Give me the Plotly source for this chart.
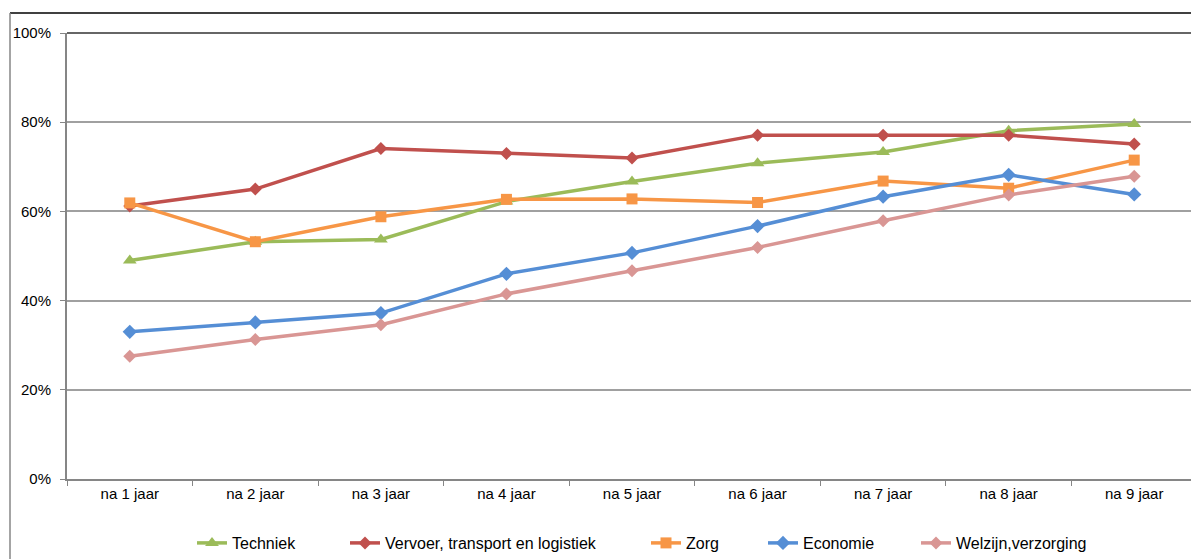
import plotly.graph_objects as go

categories = ["na 1 jaar", "na 2 jaar", "na 3 jaar", "na 4 jaar", "na 5 jaar",
              "na 6 jaar", "na 7 jaar", "na 8 jaar", "na 9 jaar"]

techniek = [49.0, 53.2, 53.7, 62.2, 66.7, 70.8, 73.3, 78.1, 79.6]
vervoer = [61.2, 65.0, 74.1, 73.0, 72.0, 77.1, 77.1, 77.1, 75.1]
zorg = [61.9, 53.2, 58.8, 62.7, 62.8, 62.0, 66.8, 65.2, 71.5]
economie = [33.0, 35.1, 37.2, 46.0, 50.7, 56.7, 63.3, 68.2, 63.8]
welzijn = [27.5, 31.3, 34.6, 41.5, 46.7, 51.9, 57.9, 63.7, 67.9]

series_names = ["Techniek", "Vervoer, transport en logistiek", "Zorg", "Economie", "Welzijn,verzorging"]
series_values = [techniek, vervoer, zorg, economie, welzijn]
colors = ["#9BBB59", "#C0504D", "#F79646", "#558ED5", "#D99694"]
symbols = ["triangle-up", "diamond", "square", "diamond", "diamond"]
msizes = [12, 10, 11, 11, 10]
legend_text_px = [232, 385, 686, 803, 956]

# page body has an 8px margin; figure sized to fit the window exactly
OFF = 8
W, H = 1199 - OFF, 559 - OFF
L, T = 67 - OFF, 33 - OFF
R = W - (1197 - OFF)
B = H - (479 - OFF)
PW = W - L - R
PH = H - T - B

def px_x(px):
    return (px - OFF - L) / PW

def px_y(py):
    return (H - B - (py - OFF)) / PH

fig = go.Figure()
legend_ids = ["legend", "legend2", "legend3", "legend4", "legend5"]
for i, (name, vals) in enumerate(zip(series_names, series_values)):
    fig.add_trace(go.Scatter(
        x=categories, y=vals, name=name, mode="lines+markers",
        line=dict(color=colors[i], width=3.5),
        marker=dict(symbol=symbols[i], size=msizes[i], color=colors[i]),
        legend=legend_ids[i],
    ))

font_family = "Liberation Sans, Arial, sans-serif"
layout_legends = {}
for i, lid in enumerate(legend_ids):
    layout_legends[lid] = dict(
        x=px_x(legend_text_px[i] - 40), xanchor="left",
        y=px_y(543), yanchor="middle",
        orientation="h", bgcolor="rgba(0,0,0,0)",
        font=dict(family=font_family, size=16, color="#000000"),
        itemwidth=30,
    )

fig.update_layout(
    width=W, height=H,
    margin=dict(l=L, r=R, t=T, b=B, pad=0, autoexpand=False),
    paper_bgcolor="white", plot_bgcolor="white",
    font=dict(family=font_family, size=15, color="#000000"),
    showlegend=True,
    **layout_legends,
)

fig.update_xaxes(
    type="category", tickson="boundaries", ticks="outside", ticklen=5,
    tickcolor="#868686", tickwidth=1,
    showline=True, linecolor="#868686", linewidth=2,
    showgrid=False, zeroline=False,
    tickfont=dict(family=font_family, size=15, color="#000000"),
    range=[-0.5, 8.5],
)
fig.update_yaxes(
    range=[0, 100], dtick=20, ticksuffix="%",
    ticks="outside", ticklen=5, tickcolor="#868686", tickwidth=1,
    showline=True, linecolor="#868686", linewidth=2,
    showgrid=True, gridcolor="#A0A0A0", gridwidth=1.5,
    zeroline=False,
    tickfont=dict(family=font_family, size=15, color="#000000"),
    ticklabelstandoff=6,
)

# plot area top and right borders
fig.add_shape(type="line", xref="paper", yref="paper", x0=0, x1=1, y0=1, y1=1,
              line=dict(color="#333333", width=1.5))
fig.add_shape(type="line", xref="paper", yref="paper", x0=1, x1=1, y0=0, y1=1,
              line=dict(color="#868686", width=1.5))
# outer chart border (top and left)
fig.add_shape(type="line", xref="paper", yref="paper", x0=px_x(10), x1=px_x(1199), y0=px_y(13), y1=px_y(13),
              line=dict(color="#000000", width=1.5))
fig.add_shape(type="line", xref="paper", yref="paper", x0=px_x(10), x1=px_x(10), y0=px_y(13), y1=px_y(559),
              line=dict(color="#868686", width=1.5))

fig.write_html("out.html")
